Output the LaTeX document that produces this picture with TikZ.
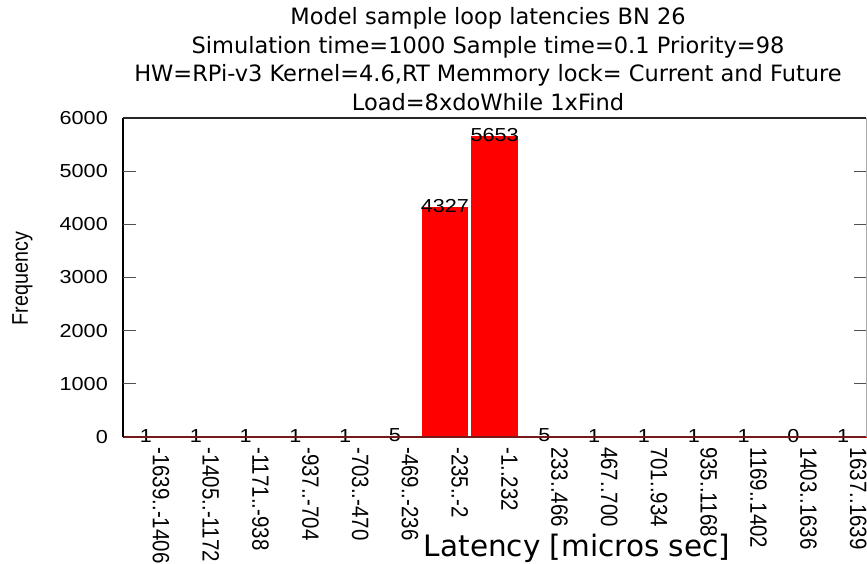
\documentclass[tikz,border=0pt]{standalone}
\usepackage{fontspec}
\usepackage{graphicx}
\setmainfont{DejaVu Sans}
\newfontfamily\plotfont{Liberation Sans}
% gnuplot-style labels are slightly wider than the plain font
\newcommand{\widetext}[1]{\scalebox{1.15}[1]{#1}}
\newcommand{\tallrot}[1]{\scalebox{1}[1.15]{#1}}
\definecolor{barred}{RGB}{255,0,0}
\definecolor{basered}{RGB}{120,25,25}
\definecolor{tickgrey}{RGB}{80,80,80}
\definecolor{frameright}{RGB}{170,170,170}

\begin{document}
\begin{tikzpicture}[x=1pt,y=-1pt,
  titleline/.style={anchor=base,inner sep=0pt,font=\fontsize{22.5}{26}\selectfont},
  ylab/.style={anchor=east,inner sep=0pt,font=\plotfont\fontsize{18.8}{20}\selectfont},
  cntlab/.style={anchor=center,inner sep=0pt,font=\plotfont\fontsize{18.8}{20}\selectfont},
  xlab/.style={anchor=west,inner sep=0pt,rotate=-90,font=\plotfont\fontsize{20.5}{22}\selectfont},
  barbox/.style={fill=barred,draw=none},
  tickline/.style={draw=tickgrey,line width=1pt}]

% canvas
\fill[white] (0,0) rectangle (867,564);
\useasboundingbox (0,0) rectangle (867,564);

% plot frame corners
\coordinate (bl) at (123,437);
\coordinate (tl) at (123,118);
\coordinate (tr) at (866,118);
\coordinate (br) at (866,437);

% title
\node[titleline] (t1) at (488,25) {Model sample loop latencies BN 26};
\node[titleline] (t2) at (488,53.5) {Simulation time=1000 Sample time=0.1 Priority=98};
\node[titleline] (t3) at (488,82) {HW=RPi-v3 Kernel=4.6,RT Memmory lock= Current and Future};
\node[titleline] (t4) at (488,110.5) {Load=8xdoWhile 1xFind};

% histogram bars, counts and bin labels
\foreach \v/\l [count=\i from 0] in {1/{-1639..-1406},1/{-1405..-1172},1/{-1171..-938},
    1/{-937..-704},1/{-703..-470},5/{-469..-236},4327/{-235..-2},5653/{-1..232},
    5/{233..466},1/{467..700},1/{701..934},1/{935..1168},1/{1169..1402},
    0/{1403..1636},1/{1637..1639}} {
  \pgfmathsetmacro{\xc}{146+49.8*\i}
  \pgfmathsetmacro{\yt}{437-\v*0.053167}
  \fill[barbox] (\xc-23.3,\yt) rectangle (\xc+23.3,437);
  \node[cntlab] (cnt\i) at (\xc,\yt-1.3) {\widetext{\v}};
  \node[xlab] (xl\i) at (\xc+15,447) {\tallrot{\l}};
}

% baseline carrying the one-count bins
\draw[basered,line width=1.6pt] (bl) -- (br);

% frame
\draw[black,line width=1.5pt] (bl) -- (tl);
\draw[black!85,line width=2.2pt] (tl) -- (tr);
\draw[frameright,line width=0.8pt] (tr) -- (br);

% y ticks and labels
\foreach \t in {0,...,6} {
  \pgfmathsetmacro{\yy}{437-\t*53.1667}
  \pgfmathtruncatemacro{\val}{\t*1000}
  \ifnum\t>0
    \ifnum\t<6
      \draw[tickline] (123,\yy) -- (136,\yy);
      \draw[tickline] (866,\yy) -- (854,\yy);
    \fi
  \fi
  \node[ylab] (yl\t) at (108,\yy) {\widetext{\val}};
}

% axis titles
\node[inner sep=0pt,rotate=90,font=\plotfont\fontsize{19.7}{21}\selectfont] (ytitle) at (22.5,278.5) {\tallrot{Frequency}};
\node[anchor=base,inner sep=0pt,font=\fontsize{29.5}{32}\selectfont] (xtitle) at (577,556) {Latency [micros sec]};

\end{tikzpicture}
\end{document}
